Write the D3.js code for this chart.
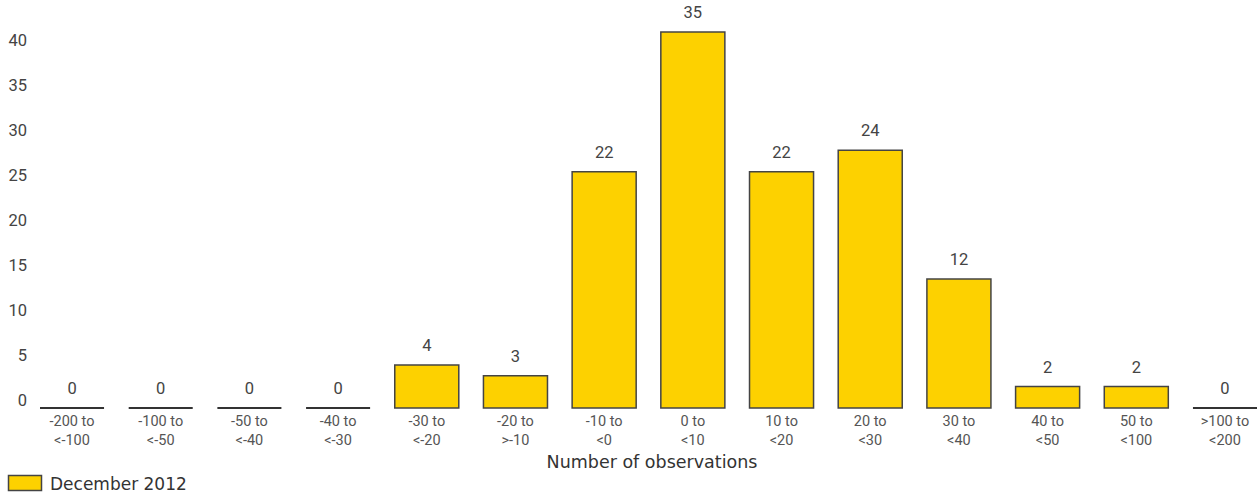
<!DOCTYPE html>
<html>
<head>
<meta charset="utf-8">
<script src="https://cdn.jsdelivr.net/npm/d3@7/dist/d3.min.js"></script>
<style>
  html, body { margin: 0; padding: 0; background: #fff; }
  svg { display: block; }
  text { font-family: "Roboto", "Liberation Sans", sans-serif; }
</style>
</head>
<body>
<svg id="chart" width="1258" height="494"></svg>
<script>
// Distribution of observations by range
const categories = [
  ["-200 to", "<-100"], ["-100 to", "<-50"], ["-50 to", "<-40"], ["-40 to", "<-30"],
  ["-30 to", "<-20"], ["-20 to", ">-10"], ["-10 to", "<0"], ["0 to", "<10"],
  ["10 to", "<20"], ["20 to", "<30"], ["30 to", "<40"], ["40 to", "<50"],
  ["50 to", "<100"], [">100 to", "<200"]
];
const values = [0, 0, 0, 0, 4, 3, 22, 35, 22, 24, 12, 2, 2, 0];
const yTicks = [0, 5, 10, 15, 20, 25, 30, 35, 40];
const seriesName = "December 2012";
const axisTitle = "Number of observations";

const svg = d3.select("#chart");
const fill = "#FDD100";
const stroke = "#444";

const x = d3.scaleBand()
  .domain(d3.range(categories.length))
  .range([40, 1257])
  .paddingInner(0.278)
  .paddingOuter(0);

// bar heights
const y = d3.scaleLinear().domain([0, 35]).range([408, 32]);
// tick label positions on the value axis
const yAxisScale = d3.scaleLinear().domain([0, 40]).range([400, 40]);

// value axis labels (no line, no tick marks)
const yAxis = d3.axisLeft(yAxisScale).tickValues(yTicks).tickSize(0).tickPadding(0);
const gy = svg.append("g").attr("transform", "translate(27,0)").call(yAxis);
gy.select(".domain").remove();
gy.selectAll("text")
  .attr("font-size", 16.5)
  .attr("fill", "#444")
  .style("font-family", "Roboto, 'Liberation Sans', sans-serif");

// bars (drawn as paths so that empty bins still show their outline)
svg.append("g").selectAll("path")
  .data(values)
  .join("path")
  .attr("d", (d, i) => {
    const x0 = x(i), x1 = x(i) + x.bandwidth();
    const p = d3.path();
    p.moveTo(x0, y(0));
    p.lineTo(x0, y(d));
    p.lineTo(x1, y(d));
    p.lineTo(x1, y(0));
    p.closePath();
    return p.toString();
  })
  .attr("fill", fill)
  .attr("stroke", d => d === 0 ? "#333" : stroke)
  .attr("stroke-width", d => d === 0 ? 2 : 1.5);

// value labels
svg.append("g").selectAll("text")
  .data(values)
  .join("text")
  .attr("x", (d, i) => x(i) + x.bandwidth() / 2)
  .attr("y", d => y(d) - 14)
  .attr("text-anchor", "middle")
  .attr("font-size", 16.5)
  .attr("fill", "#444")
  .text(d => d);

// category labels
const cat = svg.append("g").selectAll("text")
  .data(categories)
  .join("text")
  .attr("text-anchor", "middle")
  .attr("font-size", 14.5)
  .attr("fill", "#555");
cat.append("tspan")
  .attr("x", (d, i) => x(i) + x.bandwidth() / 2)
  .attr("y", 426)
  .text(d => d[0]);
cat.append("tspan")
  .attr("x", (d, i) => x(i) + x.bandwidth() / 2)
  .attr("y", 445)
  .text(d => d[1]);

// axis title
svg.append("text")
  .attr("x", 652)
  .attr("y", 468)
  .attr("text-anchor", "middle")
  .attr("font-size", 17.5)
  .attr("fill", "#333")
  .style("font-family", "'DejaVu Sans', sans-serif")
  .text(axisTitle);

// legend
svg.append("rect")
  .attr("x", 8.5).attr("y", 475.5)
  .attr("width", 33).attr("height", 15)
  .attr("fill", fill)
  .attr("stroke", stroke)
  .attr("stroke-width", 1.5);
svg.append("text")
  .attr("x", 50)
  .attr("y", 489.5)
  .attr("font-size", 17)
  .attr("fill", "#333")
  .style("font-family", "'DejaVu Sans', sans-serif")
  .text(seriesName);
</script>
</body>
</html>
